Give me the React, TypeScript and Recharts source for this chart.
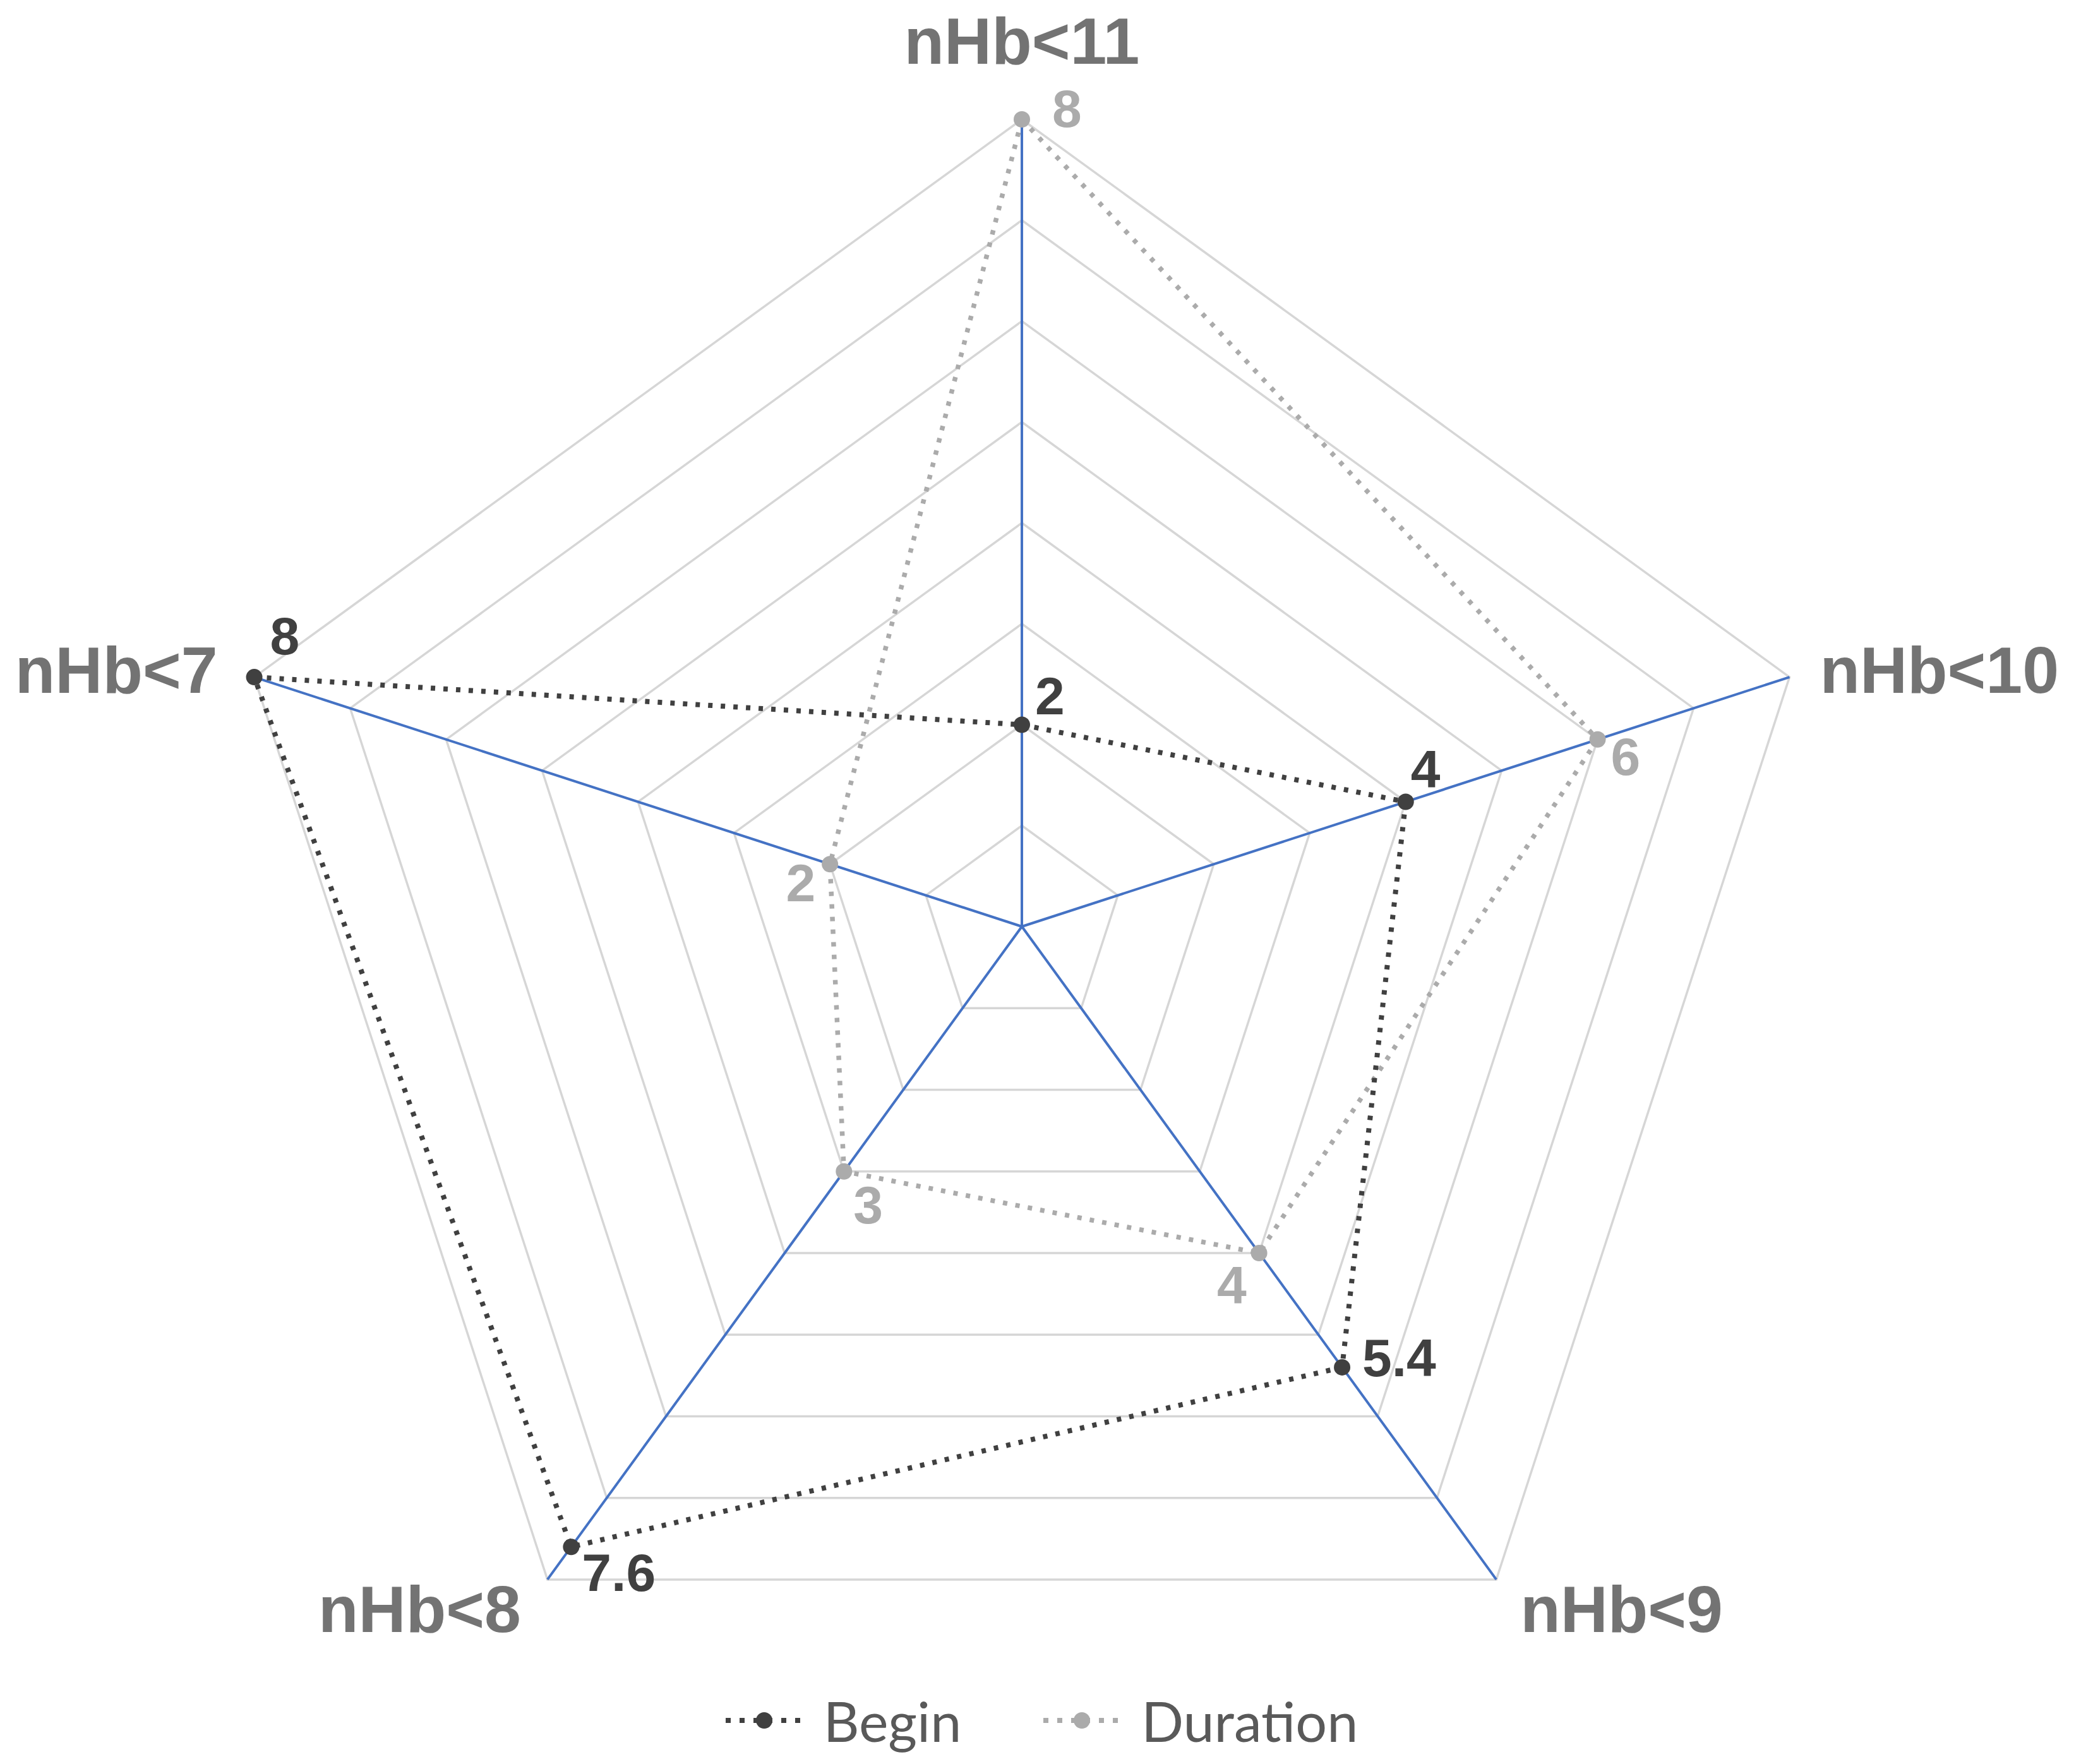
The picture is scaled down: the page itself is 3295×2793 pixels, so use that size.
import React from 'react';
import { RadarChart, Radar, PolarGrid, PolarAngleAxis, PolarRadiusAxis, Legend } from 'recharts';

const categories = ['nHb<11', 'nHb<10', 'nHb<9', 'nHb<8', 'nHb<7'];
const beginValues = [2, 4, 5.4, 7.6, 8];
const durationValues = [8, 6, 4, 3, 2];
const seriesNames = ['Begin', 'Duration'];

const data = categories.map((c, i) => ({ category: c, Begin: beginValues[i], Duration: durationValues[i] }));

const W = 3279;
const H = 2777;
const CX = 1610;
const CY = 1459;
const R = 1278;
const FONT = '"Liberation Sans", Arial, sans-serif';
const BEGIN_COLOR = '#404040';
const DURATION_COLOR = '#ABABAB';

// label placement (styling only)
const beginLabelStyle = [
  { dx: 21, dy: -17, anchor: 'start' },
  { dx: 8, dy: -23, anchor: 'start' },
  { dx: 32, dy: 14, anchor: 'start' },
  { dx: 17, dy: 70, anchor: 'start' },
  { dx: 25, dy: -36, anchor: 'start' },
];
const durationLabelStyle = [
  { dx: 48, dy: 12, anchor: 'start' },
  { dx: 21, dy: 56, anchor: 'start' },
  { dx: -20, dy: 80, anchor: 'end' },
  { dx: 15, dy: 82, anchor: 'start' },
  { dx: -23, dy: 59, anchor: 'end' },
];

const makeDot = (color: string, styles: any[], values: number[]) => (props: any) => {
  const { cx, cy, index } = props;
  const st = styles[index] || { dx: 10, dy: -10, anchor: 'start' };
  const v = values[index];
  return (
    <g key={`dot-${color}-${index}`}>
      <circle cx={cx} cy={cy} r={13} fill={color} stroke="none" />
      <text
        x={cx + st.dx}
        y={cy + st.dy}
        textAnchor={st.anchor}
        fontFamily={FONT}
        fontWeight="bold"
        fontSize={84}
        fill={color}
      >
        {String(v)}
      </text>
    </g>
  );
};

const renderTick = (props: any) => {
  const { payload } = props;
  const ang = (payload.coordinate * Math.PI) / 180;
  const c = Math.cos(ang);
  const s = Math.sin(ang);
  const vx = CX + R * c;
  const vy = CY - R * s;
  let x = vx;
  let y = vy;
  let anchor = 'middle';
  if (s > 0.9) {
    y = vy - 88;
  } else if (s > 0) {
    anchor = c > 0 ? 'start' : 'end';
    x = vx + (c > 0 ? 48 : -58);
    y = vy + 25;
  } else {
    anchor = c > 0 ? 'start' : 'end';
    x = vx + (c > 0 ? 38 : -42);
    y = vy + 83;
  }
  return (
    <text
      x={x}
      y={y}
      textAnchor={anchor}
      fontFamily={FONT}
      fontWeight="bold"
      fontSize={104}
      fill="#737373"
    >
      {payload.value}
    </text>
  );
};

const legendColors: Record<string, string> = { Begin: BEGIN_COLOR, Duration: DURATION_COLOR };

const renderLegend = () => (
  <div
    style={{
      display: 'flex',
      justifyContent: 'center',
      alignItems: 'center',
      width: W,
      fontFamily: 'Lato, "Open Sans", sans-serif',
      fontSize: 88,
      color: '#595959',
    }}
  >
    {seriesNames.map((name, i) => (
      <div
        key={name}
        style={{ display: 'flex', alignItems: 'center', marginLeft: i === 0 ? 0 : 126 }}
      >
        <svg width={130} height={30} style={{ display: 'block' }}>
          <line
            x1={4}
            y1={15}
            x2={126}
            y2={15}
            stroke={legendColors[name]}
            strokeWidth={8}
            strokeDasharray="8 14"
          />
          <circle cx={65} cy={15} r={13} fill={legendColors[name]} />
        </svg>
        <span style={{ marginLeft: 29, lineHeight: 1 }}>{name}</span>
      </div>
    ))}
  </div>
);

export default function App() {
  return (
    <div style={{ width: W, height: H, background: '#ffffff' }}>
      <RadarChart
        width={W}
        height={H}
        data={data}
        cx={CX}
        cy={CY}
        outerRadius={R}
        margin={{ top: 0, right: 0, bottom: 0, left: 0 }}
      >
        <PolarGrid gridType="polygon" radialLines={false} stroke="#D6D6D6" strokeWidth={3.5} />
        <PolarGrid gridType="polygon" radialLines={true} polarRadius={[0]} stroke="#4472C4" strokeWidth={4} />
        <PolarAngleAxis dataKey="category" tick={renderTick} tickLine={false} axisLine={false} />
        <PolarRadiusAxis domain={[0, 8]} tickCount={9} axisLine={false} tick={false} />
        <Radar
          name="Duration"
          dataKey="Duration"
          stroke={DURATION_COLOR}
          strokeWidth={7.5}
          strokeDasharray="7 13"
          fill="none"
          fillOpacity={0}
          dot={makeDot(DURATION_COLOR, durationLabelStyle, durationValues)}
          isAnimationActive={false}
        />
        <Radar
          name="Begin"
          dataKey="Begin"
          stroke={BEGIN_COLOR}
          strokeWidth={8}
          strokeDasharray="7 13"
          fill="none"
          fillOpacity={0}
          dot={makeDot(BEGIN_COLOR, beginLabelStyle, beginValues)}
          isAnimationActive={false}
        />
        <Legend content={renderLegend} wrapperStyle={{ left: 0, top: 2672, width: W }} />
      </RadarChart>
    </div>
  );
}
